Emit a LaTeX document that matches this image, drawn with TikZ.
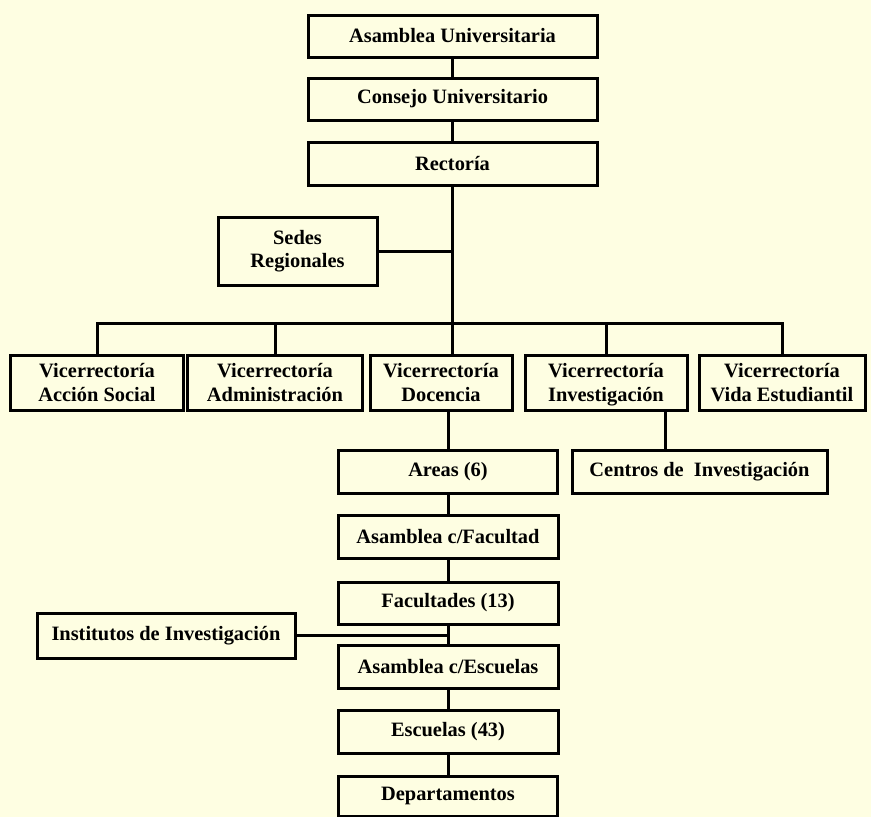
\documentclass[tikz,border=0pt]{standalone}
\usepackage{fontspec}
\setmainfont{Liberation Serif}
\definecolor{paper}{RGB}{254,254,226}
\begin{document}
\begin{tikzpicture}[x=1pt,y=-1pt,
  box/.style={draw, line width=3pt, fill=paper, inner sep=0pt, align=center,
    font=\fontsize{20.4}{23.5}\selectfont\bfseries},
  conn/.style={line width=3pt}]
\fill[paper] (0,0) rectangle (871,817);
\useasboundingbox (0,0) rectangle (871,817);
% top chain
\node[box, minimum width=289, minimum height=42] (AU) at (452.5,36) {Asamblea Universitaria};
\node[box, minimum width=289, minimum height=42] (CU) at (452.5,99) {Consejo Universitario};
\node[box, minimum width=289, minimum height=43] (Rec) at (452.5,163.5) {Rectoría};
\node[box, minimum width=159, minimum height=68] (Sedes) at (297.5,251) {Sedes\\Regionales};
% vicerrectorias
\node[box, minimum width=173, minimum height=55] (VRAS) at (97,382.5) {Vicerrectoría\\Acción Social};
\node[box, minimum width=175, minimum height=55] (VRAdm) at (275,382.5) {Vicerrectoría\\Administración};
\node[box, minimum width=142, minimum height=55] (VRDoc) at (441,382.5) {Vicerrectoría\\Docencia};
\node[box, minimum width=162, minimum height=55, text depth=0pt] (VRInv) at (606,382.5) {Vicerrectoría\\Investigación};
\node[box, minimum width=166, minimum height=55] (VRVida) at (782,382.5) {Vicerrectoría\\Vida Estudiantil};
% lower chain
\node[box, minimum width=219, minimum height=43] (Areas) at (448,471.5) {Areas (6)};
\node[box, minimum width=255, minimum height=43] (Centros) at (699.5,471.5) {Centros de\ \ Investigación};
\node[box, minimum width=220, minimum height=43] (ACF) at (448,536.5) {Asamblea c/Facultad};
\node[box, minimum width=220, minimum height=42] (Fac) at (448,603) {Facultades (13)};
\node[box, minimum width=220, minimum height=43] (ACE) at (448,666.5) {Asamblea c/Escuelas};
\node[box, minimum width=220, minimum height=43] (Esc) at (448,731.5) {Escuelas (43)};
\node[box, minimum width=219, minimum height=40] (Dep) at (448,796) {Departamentos};
\node[box, minimum width=258, minimum height=45] (Inst) at (166,635.5) {Institutos de Investigación};
% helper coordinates
\coordinate (bus) at (0,323);
\coordinate (ci) at (665,0);
% connectors
\draw[conn] (AU) -- (CU);
\draw[conn] (CU) -- (Rec);
\draw[conn] (Rec.south) -- (Rec.south |- VRDoc.north);
\draw[conn] (Sedes.east) -- (Sedes.east -| Rec.south);
\draw[conn] (VRAS.north) -- (VRAS.north |- bus) -- (VRVida.north |- bus) -- (VRVida.north);
\draw[conn] (VRAdm.north) -- (VRAdm.north |- bus);
\draw[conn] (VRInv.north) -- (VRInv.north |- bus);
\draw[conn] (VRDoc.south -| Areas.north) -- (Areas.north);
\draw[conn] (VRInv.south -| ci) -- (Centros.north -| ci);
\draw[conn] (Areas) -- (ACF);
\draw[conn] (ACF) -- (Fac);
\draw[conn] (Fac) -- (ACE);
\draw[conn] (ACE) -- (Esc);
\draw[conn] (Esc) -- (Dep);
\draw[line width=2.2pt] (Inst.east) -- (Inst.east -| Fac.south);
\end{tikzpicture}
\end{document}
